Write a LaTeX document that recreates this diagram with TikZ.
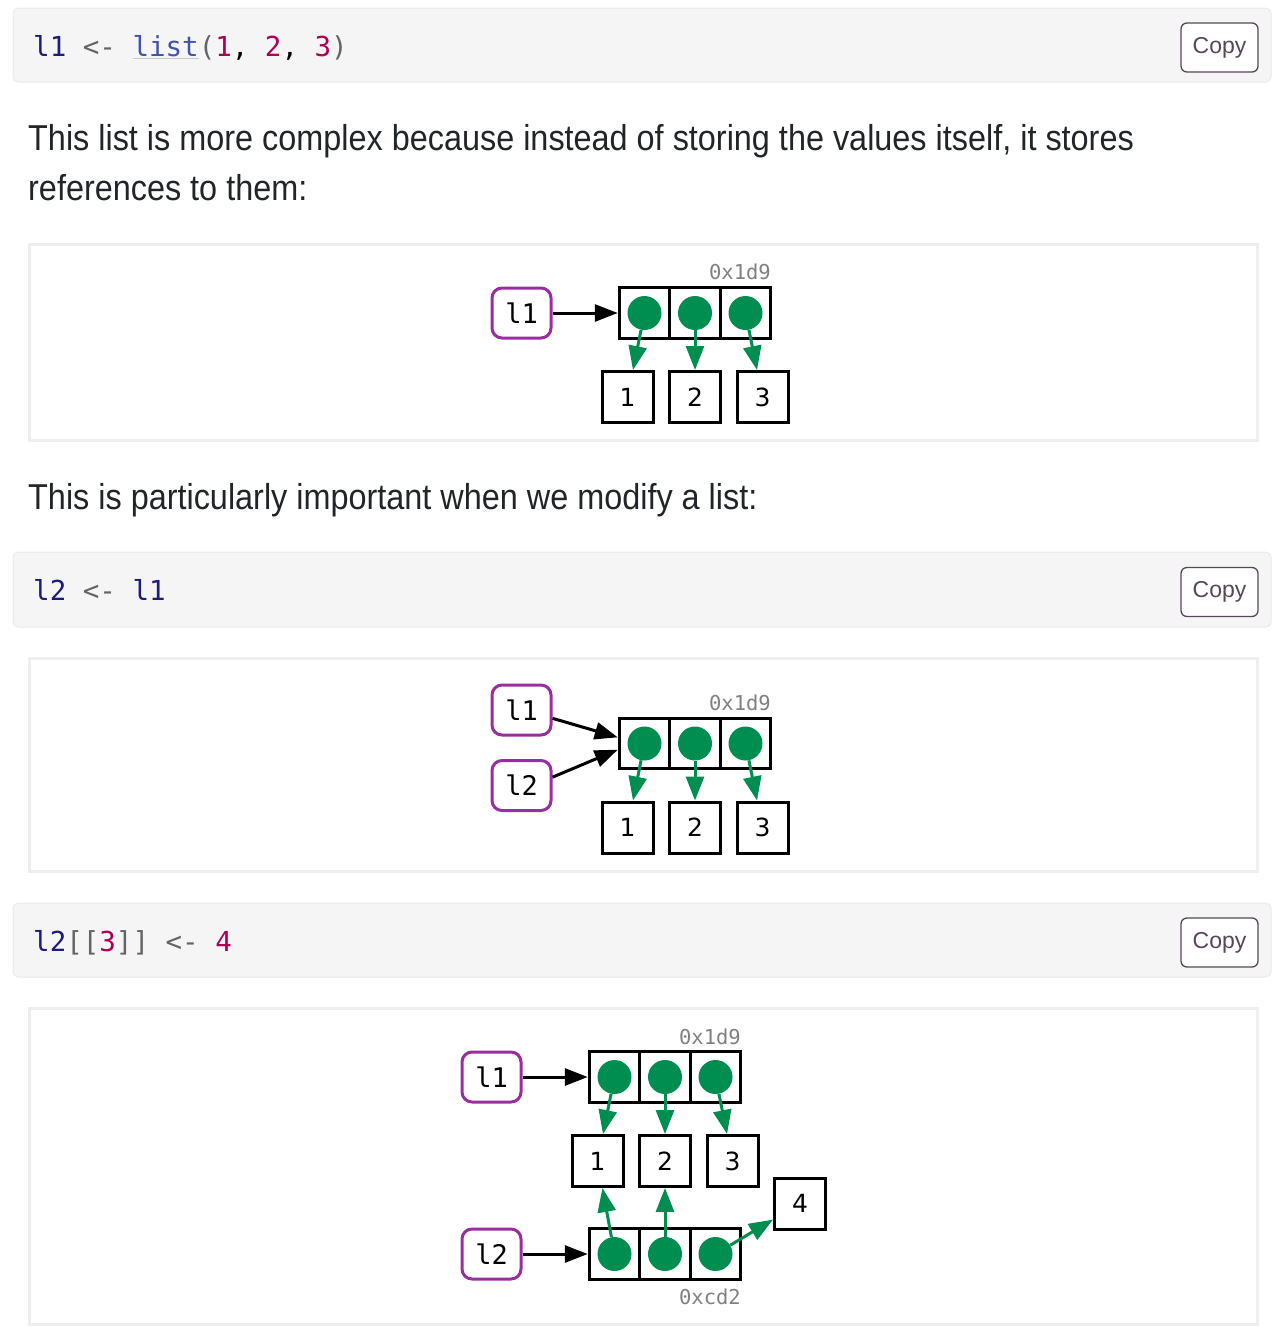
\documentclass[tikz,border=0pt]{standalone}
\usepackage{fontspec}
\setmainfont{Liberation Sans}[FakeStretch=0.9]
\newfontfamily\btnfont{Liberation Sans}
\newfontfamily\codefont{DejaVu Sans Mono}
\newfontfamily\figfont{DejaVu Sans}
\usetikzlibrary{arrows.meta}

\definecolor{ink}{RGB}{33,37,41}
\definecolor{codebg}{RGB}{245,245,245}
\definecolor{codeedge}{RGB}{234,234,234}
\definecolor{paneledge}{RGB}{238,238,238}
\definecolor{varcol}{RGB}{28,28,125}
\definecolor{opcol}{RGB}{100,100,100}
\definecolor{fncol}{RGB}{66,84,167}
\definecolor{fnline}{RGB}{200,200,200}
\definecolor{numcol}{RGB}{173,0,82}
\definecolor{btncol}{RGB}{88,70,90}
\definecolor{refgreen}{RGB}{0,142,80}
\definecolor{varpurple}{RGB}{155,45,160}
\definecolor{addrgray}{RGB}{128,128,128}

\tikzstyle{para} = [text=ink, inner sep=0pt, font=\fontsize{36}{50}\selectfont]
\tikzstyle{code} = [inner sep=0pt, font=\codefont\fontsize{27.5}{30}\selectfont]
\tikzstyle{codeblock} = [fill=codebg, draw=codeedge, line width=1pt, rounded corners=5pt]
\tikzstyle{panel} = [draw=paneledge, line width=3pt]
\tikzstyle{copybtn} = [rectangle, draw=btncol, fill=white, text=btncol, line width=1.3pt,
    rounded corners=6pt, minimum width=77pt, minimum height=49pt,
    font=\btnfont\fontsize{23}{23}\selectfont]
\tikzstyle{varbox} = [rectangle, draw=varpurple, line width=3pt, rounded corners=10pt,
    minimum width=59pt, minimum height=50pt, inner sep=0pt,
    font=\codefont\fontsize{27}{27}\selectfont]
\tikzstyle{cell} = [rectangle, draw, line width=3pt, minimum size=50.5pt, inner sep=0pt]
\tikzstyle{valbox} = [rectangle, draw, line width=3pt, minimum size=51pt, inner sep=0pt,
    font=\figfont\fontsize{25}{25}\selectfont]
\tikzstyle{refdot} = [circle, fill=refgreen, minimum size=34pt, inner sep=0pt]
\tikzstyle{addr} = [text=addrgray, inner sep=0pt, font=\codefont\fontsize{20.5}{20.5}\selectfont]
\tikzstyle{line} = [draw, line width=3pt, -{Triangle[length=23pt,width=17pt]}]
\tikzstyle{link} = [draw=refgreen, line width=3pt, -{Triangle[length=24pt,width=18pt]}]

\newcommand{\vr}[1]{\textcolor{varcol}{#1}}
\newcommand{\op}[1]{\textcolor{opcol}{#1}}
\newcommand{\nm}[1]{\textcolor{numcol}{#1}}
\newcommand{\fn}[1]{{\color{fnline}\underline{\textcolor{fncol}{#1}}}}

\begin{document}
\begin{tikzpicture}[x=1pt, y=-1pt]
    \useasboundingbox (0,0) rectangle (1272,1333);

    % Code and text
    \draw [codeblock] (13,8) rectangle (1271,82);
    \node [code, anchor=base west] (code1) at (33,56)
        {\vr{l1} \op{<-} \fn{list}\op{(}\nm{1}, \nm{2}, \nm{3}\op{)}};
    \node [copybtn] (copy1) at (1219.5,47.5) {Copy};

    \node [para, anchor=base west] (p1) at (28,150)
        {This list is more complex because instead of storing the values itself, it stores};
    \node [para, anchor=base west] (p2) at (28,200) {references to them:};

    % First diagram
    \draw [panel] (29.5,244.5) rectangle (1257.5,440);
    \node [varbox] (l1a) at (521.5,313) {l1};
    \node [cell] (c1a) at (644.5,313) {};
    \node [cell, right of=c1a, node distance=50.5pt] (c2a) {};
    \node [cell, right of=c2a, node distance=50.5pt] (c3a) {};
    \node [addr, anchor=east] (addr1) at (771,272) {0x1d9};
    \node [refdot] (d1a) at (c1a) {};
    \node [refdot] (d2a) at (c2a) {};
    \node [refdot] (d3a) at (c3a) {};
    \node [valbox] (v1a) at (627.5,397) {1};
    \node [valbox, right of=v1a, node distance=67.5pt] (v2a) {2};
    \node [valbox, right of=v2a, node distance=67.5pt] (v3a) {3};
    \path [line] (l1a) -- (c1a);
    \path [link] (d1a) -- (v1a);
    \path [link] (d2a) -- (v2a);
    \path [link] (d3a) -- (v3a);

    \node [para, anchor=base west] (p3) at (28,509)
        {This is particularly important when we modify a list:};

    \draw [codeblock] (13,552) rectangle (1271,627);
    \node [code, anchor=base west] (code2) at (33,600) {\vr{l2} \op{<-} \vr{l1}};
    \node [copybtn] (copy2) at (1219.5,592) {Copy};

    % Second diagram
    \draw [panel] (29.5,658.5) rectangle (1257.5,871);
    \node [varbox] (l1b) at (521.5,710) {l1};
    \node [varbox] (l2b) at (521.5,785.5) {l2};
    \node [cell] (c1b) at (644.5,743.5) {};
    \node [cell, right of=c1b, node distance=50.5pt] (c2b) {};
    \node [cell, right of=c2b, node distance=50.5pt] (c3b) {};
    \node [addr, anchor=east] (addr2) at (771,703) {0x1d9};
    \node [refdot] (d1b) at (c1b) {};
    \node [refdot] (d2b) at (c2b) {};
    \node [refdot] (d3b) at (c3b) {};
    \node [valbox] (v1b) at (627.5,827.5) {1};
    \node [valbox, right of=v1b, node distance=67.5pt] (v2b) {2};
    \node [valbox, right of=v2b, node distance=67.5pt] (v3b) {3};
    \path [line] (l1b.-15) -- (c1b.167);
    \path [line] (l2b.15) -- (c1b.193);
    \path [link] (d1b) -- (v1b);
    \path [link] (d2b) -- (v2b);
    \path [link] (d3b) -- (v3b);

    \draw [codeblock] (13,903) rectangle (1271,977);
    \node [code, anchor=base west] (code3) at (33,951)
        {\vr{l2}\op{[[}\nm{3}\op{]]} \op{<-} \nm{4}};
    \node [copybtn] (copy3) at (1219.5,942.5) {Copy};

    % Third diagram
    \draw [panel] (29.5,1008.5) rectangle (1257.5,1324);
    \node [varbox] (l1c) at (491.5,1077) {l1};
    \node [cell] (c1c) at (614.5,1077) {};
    \node [cell, right of=c1c, node distance=50.5pt] (c2c) {};
    \node [cell, right of=c2c, node distance=50.5pt] (c3c) {};
    \node [addr, anchor=east] (addr3) at (741,1037) {0x1d9};
    \node [refdot] (d1c) at (c1c) {};
    \node [refdot] (d2c) at (c2c) {};
    \node [refdot] (d3c) at (c3c) {};
    \node [valbox] (v1c) at (597.5,1161) {1};
    \node [valbox, right of=v1c, node distance=67.5pt] (v2c) {2};
    \node [valbox, right of=v2c, node distance=67.5pt] (v3c) {3};
    \node [valbox] (v4c) at (800,1203.5) {4};
    \node [varbox] (l2c) at (491.5,1254) {l2};
    \node [cell] (e1c) at (614.5,1254) {};
    \node [cell, right of=e1c, node distance=50.5pt] (e2c) {};
    \node [cell, right of=e2c, node distance=50.5pt] (e3c) {};
    \node [addr, anchor=east] (addr4) at (741,1297) {0xcd2};
    \node [refdot] (f1c) at (e1c) {};
    \node [refdot] (f2c) at (e2c) {};
    \node [refdot] (f3c) at (e3c) {};
    \path [line] (l1c) -- (c1c);
    \path [line] (l2c) -- (e1c);
    \path [link] (d1c) -- (v1c);
    \path [link] (d2c) -- (v2c);
    \path [link] (d3c) -- (v3c);
    \path [link] (f1c) -- (v1c);
    \path [link] (f2c) -- (v2c);
    \path [link] (f3c) -- (v4c);

\end{tikzpicture}
\end{document}
